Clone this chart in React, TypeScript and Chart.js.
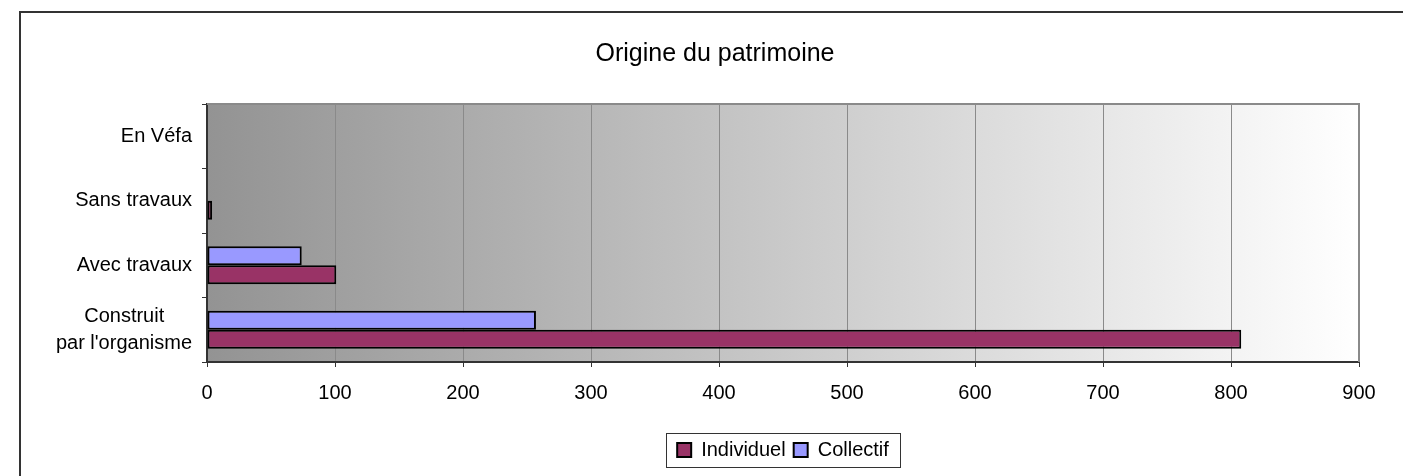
import React, { useEffect, useRef } from "react";
import { Chart, registerables } from "chart.js";

Chart.register(...registerables);

const chartTitle = "Origine du patrimoine";
const categories: (string | string[])[] = [
  "En Véfa",
  "Sans travaux",
  "Avec travaux",
  ["Construit     ", "par l'organisme"],
];
const individuel = [0, 4, 101, 808];
const collectif = [0, 0, 74, 257];
const xMin = 0;
const xMax = 900;
const xStep = 100;

const FONT = "'Liberation Sans', Arial, Helvetica, sans-serif";

const framePlugin = {
  id: "frameAndBackground",
  afterLayout(chart: any) {
    // let long category labels extend to the left without being clipped
    const y = chart.scales.y;
    if (y) y.left = 25;
  },
  beforeDraw(chart: any) {
    const { ctx, chartArea } = chart;
    const { left, top, right, bottom } = chartArea;
    ctx.save();
    // outer frame (left and top edges visible)
    ctx.strokeStyle = "#333333";
    ctx.lineWidth = 2;
    ctx.beginPath();
    ctx.moveTo(20, chart.height + 2);
    ctx.lineTo(20, 12);
    ctx.lineTo(chart.width + 2, 12);
    ctx.stroke();
    // plot area gradient
    const g = ctx.createLinearGradient(left, 0, right, 0);
    g.addColorStop(0, "#939393");
    g.addColorStop(1, "#ffffff");
    ctx.fillStyle = g;
    ctx.fillRect(left, top, right - left, bottom - top);
    ctx.restore();
  },
  afterDraw(chart: any) {
    const { ctx, chartArea } = chart;
    const { left, top, right } = chartArea;
    ctx.save();
    ctx.strokeStyle = "#8a8a8a";
    ctx.lineWidth = 2;
    ctx.beginPath();
    ctx.moveTo(left, top);
    ctx.lineTo(right, top);
    ctx.lineTo(right, chartArea.bottom);
    ctx.stroke();
    // legend frame
    const lg = chart.legend;
    if (lg && lg.legendHitBoxes && lg.legendHitBoxes.length) {
      const hb = lg.legendHitBoxes;
      const l = Math.min(...hb.map((h: any) => h.left)) - 11;
      const r = Math.max(...hb.map((h: any) => h.left + h.width)) + 11;
      const cy = hb[0].top + hb[0].height / 2;
      ctx.strokeStyle = "#333333";
      ctx.lineWidth = 1;
      ctx.strokeRect(Math.round(l) + 0.5, Math.round(cy - 17) + 0.5, Math.round(r - l), 34);
    }
    ctx.restore();
  },
};

export default function App() {
  const canvasRef = useRef<HTMLCanvasElement | null>(null);

  useEffect(() => {
    if (!canvasRef.current) return;
    Chart.defaults.font.family = FONT;
    Chart.defaults.color = "#000000";
    const chart = new Chart(canvasRef.current, {
      type: "bar",
      data: {
        labels: categories,
        datasets: [
          {
            label: "Collectif",
            data: collectif,
            backgroundColor: "#9999FF",
            borderColor: "#000000",
            borderWidth: 2,
            borderSkipped: false,
            barPercentage: 1,
            categoryPercentage: 0.59,
          },
          {
            label: "Individuel",
            data: individuel,
            backgroundColor: "#993366",
            borderColor: "#000000",
            borderWidth: 2,
            borderSkipped: false,
            barPercentage: 1,
            categoryPercentage: 0.59,
          },
        ],
      },
      options: {
        indexAxis: "y",
        animation: false,
        responsive: true,
        maintainAspectRatio: false,
        layout: { padding: { left: 71, right: 44, top: 0, bottom: 6 } },
        plugins: {
          title: {
            display: true,
            text: chartTitle,
            color: "#000000",
            font: { size: 25, weight: "normal", family: FONT },
            padding: { top: 39.5, bottom: 34.5 },
          },
          legend: {
            display: true,
            position: "bottom",
            fullSize: false,
            reverse: true,
            labels: {
              boxWidth: 14,
              boxHeight: 14,
              padding: 8,
              color: "#000000",
              font: { size: 20, family: FONT },
            },
          },
          tooltip: { enabled: false },
        },
        scales: {
          x: {
            type: "linear",
            min: xMin,
            max: xMax,
            ticks: {
              stepSize: xStep,
              padding: 14,
              color: "#000000",
              font: { size: 20, family: FONT },
            },
            grid: {
              color: "#8a8a8a",
              lineWidth: 1,
              drawTicks: true,
              tickLength: 5,
              tickColor: "#333333",
            },
            border: { display: true, color: "#333333", width: 2 },
            afterFit(scale: any) {
              scale.height = 70;
            },
          },
          y: {
            type: "category",
            ticks: {
              padding: 10,
              color: "#000000",
              font: { size: 20, family: FONT, lineHeight: 1.33 },
            },
            grid: {
              offset: true,
              drawOnChartArea: false,
              drawTicks: true,
              tickLength: 5,
              tickColor: "#333333",
            },
            border: { display: true, color: "#333333", width: 2 },
            afterFit(scale: any) {
              scale.width = 136;
            },
          },
        },
      },
      plugins: [framePlugin],
    } as any);
    return () => chart.destroy();
  }, []);

  return (
    <div
      style={{
        position: "fixed",
        left: 0,
        top: 0,
        width: 1403,
        height: 476,
        background: "#ffffff",
      }}
    >
      <canvas ref={canvasRef} />
    </div>
  );
}
